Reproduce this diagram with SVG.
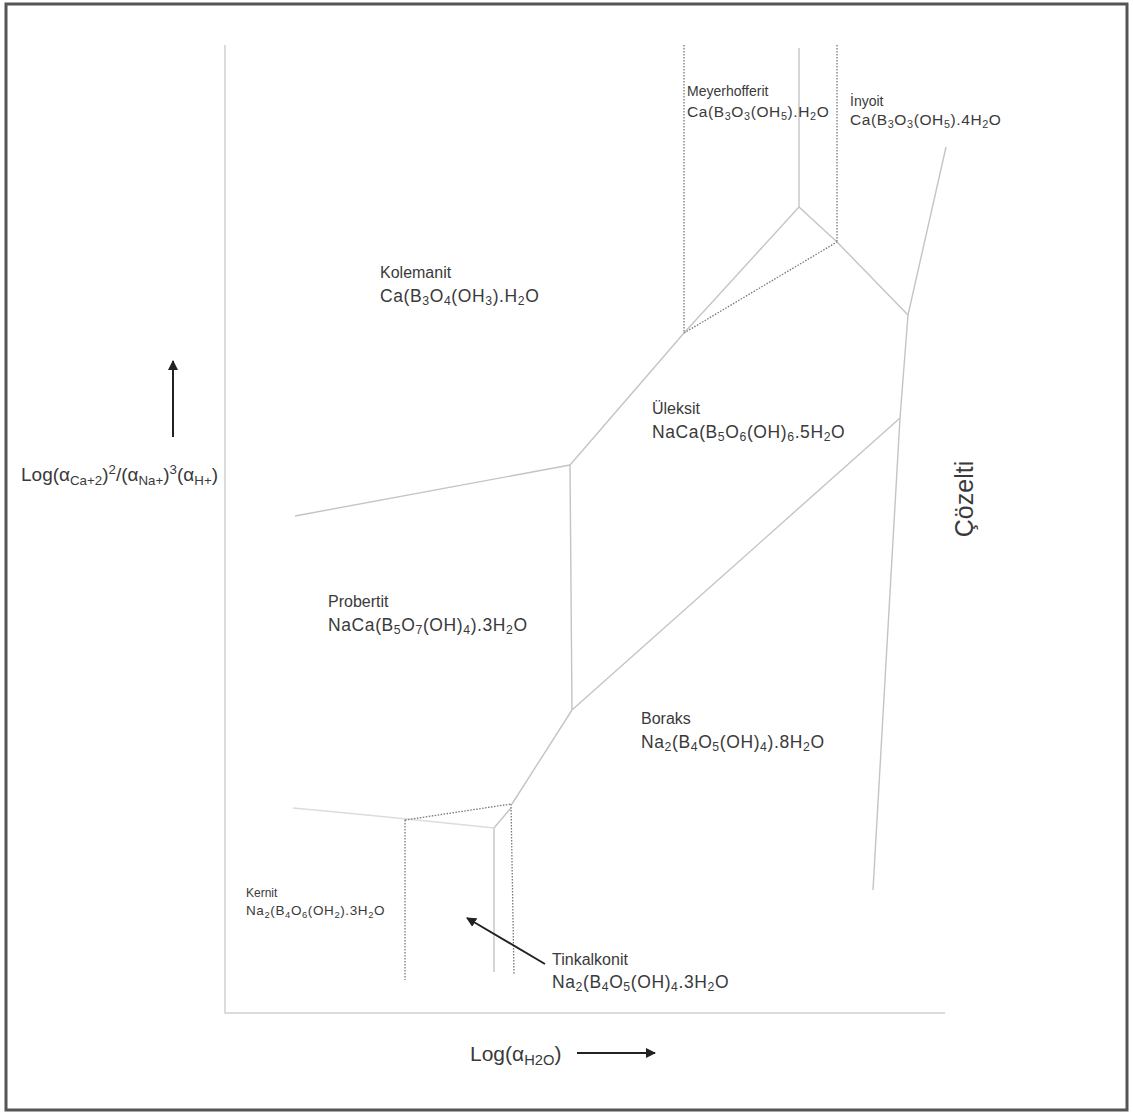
<svg xmlns="http://www.w3.org/2000/svg" width="1133" height="1115" viewBox="0 0 1133 1115">
<style>
text{font-family:"Liberation Sans",Arial,sans-serif;fill:#3a3a3a}
.t{font-size:16px}
.m{font-size:14px}
.k{font-size:12px}
.tf{font-size:17.5px;letter-spacing:0.6px}
.mf{font-size:15.5px;letter-spacing:0.6px}
.kf{font-size:13.5px;letter-spacing:0.6px}
.s{font-size:70%}
.ln{fill:none;stroke:#c4c4c4;stroke-width:1.4}
.lt{fill:none;stroke:#dcdcdc;stroke-width:1.4}
.dt{fill:none;stroke:#777;stroke-width:1.3;stroke-dasharray:1.5 1.5}
.ax{fill:none;stroke:#d0d0d0;stroke-width:1.5}
.ar{fill:none;stroke:#222;stroke-width:2}
</style>
<defs>
<marker id="ah" viewBox="0 0 10 10" refX="9" refY="5" markerWidth="5" markerHeight="5" orient="auto">
<path d="M0,0 L10,5 L0,10 z" fill="#222"/>
</marker>
</defs>
<rect x="0" y="0" width="1133" height="1115" fill="#fff"/>
<rect x="6" y="4" width="1121" height="1106" fill="none" stroke="#555" stroke-width="3"/>
<g id="axes">
<polyline class="ax" points="225,45 225,1013 945,1013"/>
</g>
<g id="connectors">
<line class="ln" x1="799" y1="48" x2="799" y2="207"/>
<line class="ln" x1="799" y1="207" x2="684" y2="333"/>
<line class="ln" x1="799" y1="207" x2="837" y2="242"/>
<line class="ln" x1="837" y1="242" x2="908" y2="315"/>
<line class="ln" x1="908" y1="315" x2="946" y2="147"/>
<polyline class="ln" points="908,315 900,418 873,890"/>
<line class="ln" x1="684" y1="333" x2="570" y2="465"/>
<line class="ln" x1="570" y1="465" x2="295" y2="516"/>
<line class="ln" x1="570" y1="465" x2="572" y2="710"/>
<line class="ln" x1="900" y1="418" x2="572" y2="710"/>
<line class="ln" x1="572" y1="710" x2="512" y2="804"/>
<line class="ln" x1="511" y1="808" x2="494" y2="828"/>
<line class="ln" x1="494" y1="828" x2="494" y2="972"/>
<path class="lt" d="M293,808 Q380,816 494,828"/>
<line class="dt" x1="684" y1="45" x2="684" y2="333"/>
<line class="dt" x1="837" y1="45" x2="837" y2="242"/>
<line class="dt" x1="684" y1="333" x2="837" y2="242"/>
<line class="dt" x1="405" y1="820" x2="511" y2="804"/>
<line class="dt" x1="405" y1="820" x2="405" y2="980"/>
<line class="dt" x1="511" y1="804" x2="514" y2="975"/>
<line class="ar" x1="545" y1="964" x2="467" y2="918" marker-end="url(#ah)"/>
<line class="ar" x1="173" y1="437" x2="173" y2="361" marker-end="url(#ah)"/>
<line class="ar" x1="577" y1="1053" x2="655" y2="1053" marker-end="url(#ah)"/>
</g>
<g id="meyerhofferit">
<text class="m" x="687" y="96">Meyerhofferit</text>
<text class="mf" x="687" y="117">Ca(B<tspan class="s" dy="3">3</tspan><tspan dy="-3">O</tspan><tspan class="s" dy="3">3</tspan><tspan dy="-3">(OH</tspan><tspan class="s" dy="3">5</tspan><tspan dy="-3">).H</tspan><tspan class="s" dy="3">2</tspan><tspan dy="-3">O</tspan></text>
</g>
<g id="inyoit">
<text class="m" x="850" y="106">İnyoit</text>
<text class="mf" x="850" y="125">Ca(B<tspan class="s" dy="3">3</tspan><tspan dy="-3">O</tspan><tspan class="s" dy="3">3</tspan><tspan dy="-3">(OH</tspan><tspan class="s" dy="3">5</tspan><tspan dy="-3">).4H</tspan><tspan class="s" dy="3">2</tspan><tspan dy="-3">O</tspan></text>
</g>
<g id="kolemanit">
<text class="t" x="380" y="278">Kolemanit</text>
<text class="tf" x="380" y="302">Ca(B<tspan class="s" dy="3">3</tspan><tspan dy="-3">O</tspan><tspan class="s" dy="3">4</tspan><tspan dy="-3">(OH</tspan><tspan class="s" dy="3">3</tspan><tspan dy="-3">).H</tspan><tspan class="s" dy="3">2</tspan><tspan dy="-3">O</tspan></text>
</g>
<g id="uleksit">
<text class="t" x="652" y="414">Üleksit</text>
<text class="tf" x="652" y="438">NaCa(B<tspan class="s" dy="3">5</tspan><tspan dy="-3">O</tspan><tspan class="s" dy="3">6</tspan><tspan dy="-3">(OH)</tspan><tspan class="s" dy="3">6</tspan><tspan dy="-3">.5H</tspan><tspan class="s" dy="3">2</tspan><tspan dy="-3">O</tspan></text>
</g>
<g id="probertit">
<text class="t" x="328" y="607">Probertit</text>
<text class="tf" x="328" y="631">NaCa(B<tspan class="s" dy="3">5</tspan><tspan dy="-3">O</tspan><tspan class="s" dy="3">7</tspan><tspan dy="-3">(OH)</tspan><tspan class="s" dy="3">4</tspan><tspan dy="-3">).3H</tspan><tspan class="s" dy="3">2</tspan><tspan dy="-3">O</tspan></text>
</g>
<g id="boraks">
<text class="t" x="641" y="724">Boraks</text>
<text class="tf" x="641" y="748">Na<tspan class="s" dy="3">2</tspan><tspan dy="-3">(B</tspan><tspan class="s" dy="3">4</tspan><tspan dy="-3">O</tspan><tspan class="s" dy="3">5</tspan><tspan dy="-3">(OH)</tspan><tspan class="s" dy="3">4</tspan><tspan dy="-3">).8H</tspan><tspan class="s" dy="3">2</tspan><tspan dy="-3">O</tspan></text>
</g>
<g id="kernit">
<text class="k" x="246" y="897">Kernit</text>
<text class="kf" x="246" y="915">Na<tspan class="s" dy="3">2</tspan><tspan dy="-3">(B</tspan><tspan class="s" dy="3">4</tspan><tspan dy="-3">O</tspan><tspan class="s" dy="3">6</tspan><tspan dy="-3">(OH</tspan><tspan class="s" dy="3">2</tspan><tspan dy="-3">).3H</tspan><tspan class="s" dy="3">2</tspan><tspan dy="-3">O</tspan></text>
</g>
<g id="tinkalkonit">
<text class="t" x="552" y="965">Tinkalkonit</text>
<text class="tf" x="552" y="988">Na<tspan class="s" dy="3">2</tspan><tspan dy="-3">(B</tspan><tspan class="s" dy="3">4</tspan><tspan dy="-3">O</tspan><tspan class="s" dy="3">5</tspan><tspan dy="-3">(OH)</tspan><tspan class="s" dy="3">4</tspan><tspan dy="-3">.3H</tspan><tspan class="s" dy="3">2</tspan><tspan dy="-3">O</tspan></text>
</g>
<g id="cozelti">
<text x="973" y="499" font-size="25" text-anchor="middle" transform="rotate(-90 973 499)">Çözelti</text>
</g>
<g id="ylabel">
<text x="21" y="481" font-size="19">Log(α<tspan class="s" dy="4">Ca+2</tspan><tspan dy="-4">)</tspan><tspan class="s" dy="-7">2</tspan><tspan dy="7">/(α</tspan><tspan class="s" dy="4">Na+</tspan><tspan dy="-4">)</tspan><tspan class="s" dy="-7">3</tspan><tspan dy="7">(α</tspan><tspan class="s" dy="4">H+</tspan><tspan dy="-4">)</tspan></text>
</g>
<g id="xlabel">
<text x="470" y="1061" font-size="21">Log(α<tspan class="s" dy="4">H2O</tspan><tspan dy="-4">)</tspan></text>
</g>
</svg>
